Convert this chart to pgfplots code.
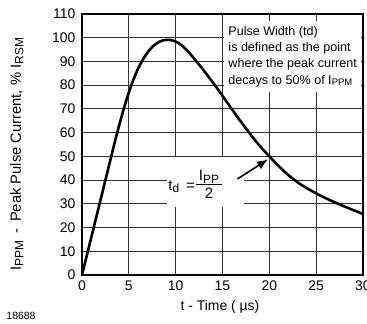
\documentclass[border=0pt]{standalone}
\usepackage{fontspec}
\setmainfont{Liberation Sans}
\usepackage{pgfplots}
\pgfplotsset{compat=1.18}
\usetikzlibrary{arrows.meta}
\newcommand\sub[2][10]{\raisebox{-0.3ex}{\fontsize{#1}{#1}\selectfont #2}}
\begin{document}
\begin{tikzpicture}
\useasboundingbox (0,0) rectangle (367bp,324bp);
\begin{axis}[
  at={(82bp,49bp)}, anchor=south west,
  scale only axis, width=281bp, height=261bp,
  xmin=0, xmax=30, ymin=0, ymax=110,
  xtick={0,5,...,30}, ytick={0,10,...,110},
  grid=major, grid style={black!80, line width=0.9bp},
  major tick length=0pt,
  axis line style={line width=2.2bp},
  tick label style={font=\fontsize{14}{14}\selectfont},
  /pgf/number format/assume math mode=true,
  yticklabel style={xshift=-3bp},
  xticklabel style={yshift=-2bp},
  xlabel={t - Time ( µs)},
  ylabel={I\sub[12]{PPM}\hspace{7bp}-\hspace{7bp}Peak Pulse Current, \% I\sub[12]{RSM}},
  every axis x label/.style={at={(axis description cs:0.491,-0.122)}, anchor=center, font=\fontsize{14}{14}\selectfont},
  every axis y label/.style={at={(axis description cs:-0.232,0.462)}, rotate=90, anchor=center, font=\fontsize{14.8}{14.8}\selectfont},
]
\addplot[black, line width=2.6bp, smooth] coordinates {
(0,0) (0.5,8) (1,16) (1.5,24) (2,32) (2.5,40) (3,48) (3.5,56) (4,63.6) (4.5,70.6)
(5,76.9) (5.5,82.4) (6,87.1) (6.5,90.8) (7,93.8) (7.5,96.1) (8,97.7) (8.5,98.7) (9,99.1)
(9.5,99.0) (10,98.4) (10.5,97.2) (11,95.5) (11.5,93.5) (12,91.0) (12.5,88.7) (13,86.2)
(13.5,83.6) (14,81.0) (14.5,78.3) (15,75.5) (15.5,72.7) (16,69.9) (16.5,67.1) (17,64.4)
(17.5,61.8) (18,59.2) (18.5,56.7) (19,54.3) (19.5,52.1) (20,50) (21,45.9) (22,42.2)
(23,39.1) (24,36.6) (25,34.4) (26,32.4) (27,30.6) (28,28.9) (29,27.3) (30,25.7)
};
\node[fill=white, anchor=north west, inner xsep=4bp, inner ysep=5bp, align=left,
  font=\fontsize{12.6}{16.3}\selectfont] at (axis cs:15.19,107.05)
  {Pulse Width (td)\\is defined as the point\\where the peak current\\decays to 50\% of I\sub[9.5]{PPM}};
\fill[white] (axis cs:9.1,28.6) rectangle (axis cs:17.3,49.7);
\node[anchor=west, inner sep=0pt, font=\fontsize{15}{15}\selectfont] at (axis cs:9.2,37.2)
  {t\sub[12]{d}\hspace{7bp}=\hspace{1bp}\begin{tabular}{@{\hspace{3bp}}c@{\hspace{3bp}}}I\sub[12]{PP}\\[-1bp]\hline\rule{0pt}{14bp}2\end{tabular}};
\draw[line width=1.6bp, -{Latex[length=11bp,width=9bp]}] (axis cs:16.6,40.5) -- (axis cs:19.85,48.7);
\end{axis}
\node[font=\fontsize{10.5}{10.5}\selectfont] at (21bp,8.5bp) {18688};
\end{tikzpicture}
\end{document}
